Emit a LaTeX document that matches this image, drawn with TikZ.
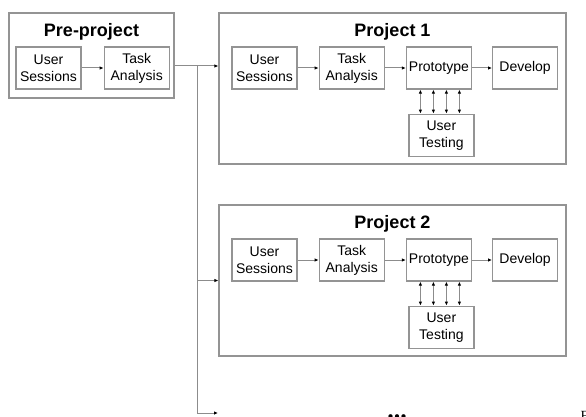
\documentclass[tikz,border=0pt]{standalone}
\usepackage{fontspec}
\setmainfont{Liberation Sans}
\newfontfamily\capserif{Liberation Serif}
\usetikzlibrary{arrows.meta, positioning}
\definecolor{boxgray}{gray}{0.58}
\definecolor{linegray}{gray}{0.55}

\begin{document}
\begin{tikzpicture}[x=1pt, y=1pt,
    stage/.style={draw=boxgray, line width=1.2pt, font=\fontsize{14}{17}\selectfont, align=center,
                  minimum width=65pt, minimum height=42pt, inner sep=1pt},
    frame/.style={draw=boxgray, line width=1.3pt, inner sep=0pt},
    ttl/.style={font=\fontsize{18}{20}\selectfont\bfseries},
    arr/.style={-{Latex[length=4pt, width=3.5pt, color=black]}, draw=linegray, line width=1pt},
    dbl/.style={{Latex[length=4pt, width=3.5pt, color=black]}-{Latex[length=4pt, width=3.5pt, color=black]},
                draw=linegray, line width=1pt}]
  \useasboundingbox (0,0) rectangle (586,416);
  % pre-project
  \node[frame, minimum width=165pt, minimum height=85pt] (pre) at (91.5,360.5) {};
  \node[ttl] (preT) at (91.5,384) {Pre-project};
  \node[stage] (preUS) at (48.5,348) {User\\Sessions};
  \node[stage, right=22pt of preUS] (preTA) {Task\\Analysis};
  \draw[arr] (preUS) -- (preTA);
  % projects
  \foreach \i/\y in {1/327.5, 2/135.5} {
    \node[frame, minimum width=347pt, minimum height=151pt] (p\i) at (392.5,\y) {};
    \node[ttl] (t\i) at ([yshift=-19pt]p\i.north) {Project \i};
    \node[stage] (us\i) at (264.5,\y+20.5) {User\\Sessions};
    \node[stage, right=21pt of us\i] (ta\i) {Task\\Analysis};
    \node[stage, right=21pt of ta\i] (pr\i) {Prototype};
    \node[stage, right=20pt of pr\i] (dv\i) {Develop};
    \node[stage, below=24pt of pr\i, xshift=2.5pt] (ut\i) {User\\Testing};
    \draw[arr] (us\i) -- (ta\i);
    \draw[arr] (ta\i) -- (pr\i);
    \draw[arr] (pr\i) -- (dv\i);
    \foreach \dx in {-18.5,-5.5,7.5,20.5}
      \draw[dbl] ([xshift=\dx pt]pr\i.south) -- ([xshift=\dx pt]pr\i.south |- ut\i.north);
  }
  % trunk
  \coordinate (split) at (197,350);
  \coordinate (more) at (218,3);
  \draw[arr] (pre.east |- split) -- (p1.west |- split);
  \draw[arr] (split) |- (more);
  \draw[arr] (split |- p2.west) -- (p2.west);
  \node[font=\capserif\bfseries\fontsize{26}{26}\selectfont, anchor=base] (dots) at (397,-2) {...};
  \node[font=\capserif\fontsize{14}{14}\selectfont, anchor=base west] (fig) at (577,-4) {F};
\end{tikzpicture}
\end{document}
